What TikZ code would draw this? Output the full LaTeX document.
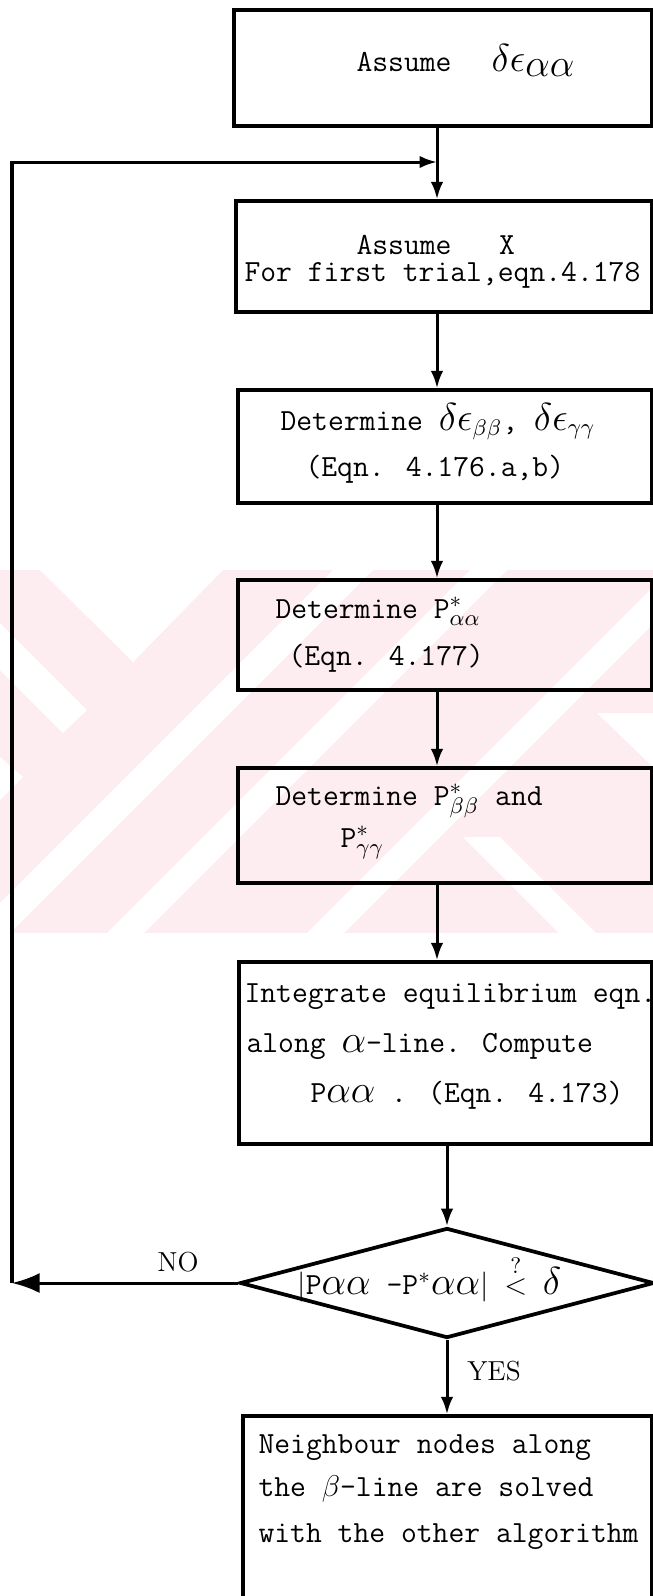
\documentclass[tikz,border=0pt]{standalone}
\usetikzlibrary{arrows.meta,shapes.geometric,fit}
\definecolor{wm}{RGB}{253,236,240}
\newcommand{\GA}{\scalebox{1.3}{$\alpha$}}
\newcommand{\GD}{\scalebox{1.3}{$\delta$}}
\newcommand{\GE}{\scalebox{1.3}{$\epsilon$}}
\tikzset{
  box/.style={draw, line width=1.35pt, inner sep=0pt},
  tt/.style={font=\fontsize{12.3}{14}\selectfont\ttfamily, inner sep=0pt, anchor=base west},
  lab/.style={font=\fontsize{11}{13}\selectfont\rmfamily, inner sep=0pt, anchor=base},
  conn/.style={line width=1.2pt},
  arr/.style={conn, -{Latex[length=7pt,width=5pt]}},
  bigarr/.style={conn, -{Latex[length=11pt,width=8pt]}},
}
\begin{document}
\begin{tikzpicture}[x=0.4pt,y=-0.4pt]
\useasboundingbox (0,0) rectangle (653,1596);
% watermark
\fill[wm] (0,570) rectangle (653,933);
\begin{scope}
\clip (0,570) rectangle (653,933);
\fill[white] (40,570) -- (223,570) -- (133,662) -- cycle;
\fill[white] (0,623) -- (87,710) -- (63,733) -- (0,670) -- cycle;
\fill[white] (0,757) -- (23,777) -- (0,800) -- cycle;
\fill[white] (333,570) -- (373,570) -- (10,933) -- (-30,933) -- cycle;
\fill[white] (470,570) -- (507,570) -- (144,933) -- (107,933) -- cycle;
\fill[white] (670,570) -- (707,570) -- (344,933) -- (307,933) -- cycle;
\fill[white] (463,837) -- (500,837) -- (596,933) -- (559,933) -- cycle;
\fill[white] (597,713) -- (653,713) -- (653,767) -- cycle;
\end{scope}
% coordinates for connector lines
\coordinate (mx) at (437,0);
\coordinate (lx) at (447,0);
% boxes
\node[box, fit={(234,10) (652,126)}] (b1) {};
\node[box, fit={(236,201) (652,312)}] (b2) {};
\node[box, fit={(238,390) (652,503)}] (b3) {};
\node[box, fit={(238,580) (652,690)}] (b4) {};
\node[box, fit={(238,768) (652,883)}] (b5) {};
\node[box, fit={(239,962) (652,1144)}] (b6) {};
\node[box, fit={(243,1416) (652,1620)}] (b7) {};
\node[draw, diamond, line width=1.5pt, inner sep=0pt, minimum width=165.6pt, minimum height=44pt] (dia) at (447,1283) {};
% texts
\node[tt] (t1) at (356,71) {Assume\hspace{16pt}\GD\GE\raisebox{-2pt}{\GA\GA}};
\node[tt] (t2a) at (356,254) {Assume\ \ \ X};
\node[tt] (t2b) at (244,281) {For first trial,eqn.4.178};
\node[tt] (t3a) at (280,430) {Determine \GD\GE$_{\beta\beta}$, \GD\GE$_{\gamma\gamma}$};
\node[tt] (t3b) at (305,476) {(Eqn. 4.176.a,b)};
\node[tt] (t4a) at (275,618) {Determine P$^{*}_{\alpha\alpha}$};
\node[tt] (t4b) at (288,665) {(Eqn. 4.177)};
\node[tt] (t5a) at (275,805) {Determine P$^{*}_{\beta\beta}$ and};
\node[tt] (t5b) at (340,847) {P$^{*}_{\gamma\gamma}$};
\node[tt] (t6a) at (244,1002) {Integrate equilibrium eqn.};
\node[tt] (t6b) at (246,1052) {along \GA-line. Compute};
\node[tt] (t6c) at (310,1102) {P\GA\GA\ . (Eqn. 4.173)};
\node[tt] (td) at (297,1294) {$|$P\GA\GA\ -P$^{*}$\GA\GA$|$ $\stackrel{?}{<}$ \GD};
\node[tt] (t7a) at (258,1453) {Neighbour nodes along};
\node[tt] (t7b) at (258,1496) {the $\beta$-line are solved};
\node[tt] (t7c) at (258,1542) {with the other algorithm};
\node[lab] (no) at (178,1271) {NO};
\node[lab] (yes) at (494,1380) {YES};
% connectors
\coordinate (c1) at (12,1283);
\coordinate (c2) at (12,162);
\coordinate (j) at (437,162);
\draw[arr] (b1.south -| mx) -- (b2.north -| mx);
\draw[arr] (b2.south -| mx) -- (b3.north -| mx);
\draw[arr] (b3.south -| mx) -- (b4.north -| mx);
\draw[arr] (b4.south -| mx) -- (b5.north -| mx);
\draw[arr] (b5.south -| mx) -- (b6.north -| mx);
\draw[arr] (b6.south -| lx) -- (dia.north);
\draw[arr] (dia.south) -- (b7.north -| lx);
\draw[bigarr] (dia.west) -- (c1);
\draw[arr] (c1) -- (c2) -- (j);
\end{tikzpicture}
\end{document}
